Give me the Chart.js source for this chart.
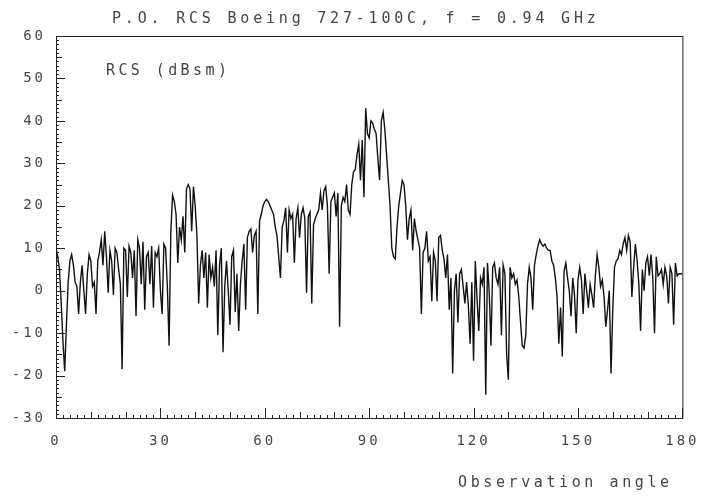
<!DOCTYPE html>
<html>
<head>
<meta charset="utf-8">
<script src="https://cdn.jsdelivr.net/npm/chart.js@4.4.1/dist/chart.umd.min.js"></script>
<style>
  html, body { margin: 0; padding: 0; background: #fff; }
  #wrap { width: 710px; height: 497px; }
</style>
</head>
<body>
<div id="wrap"><canvas id="grafico"></canvas></div>
<script>
// RCS (dBsm), one sample every 0.5 degree, 0..180
const rcs = [
  10, 8, 5, -3, -12, -19, -8, 2, 7, 8.5, 6, 2, 1, -5.5, 2, 6, 0, -5.5, 4, 8.5,
  7, 1, 2, -5.5, 7, 9, 12, 6, 14, 8, -0.5, 9.5, 7, -1, 10, 9, 5, 1.5, -18.5, 10,
  9.5, -1.5, 10.5, 9, 3, 9.5, -6, 12, 10, 1.5, 11.5, -4.5, 8, 9, 1.5, 10.5, -4, 9, 8, 10,
  0, -5.5, 11, 10, 1, -13, 14, 22.5, 21, 18, 6.5, 15, 12, 17.5, 9, 24, 25, 24, 14, 24.5,
  20, 13, -3, 6, 9.5, 3, 9, -4, 8.5, 3, 5.5, 1, 9.5, -10.5, 6, 10, -14.5, 1, 7, 0,
  -8, 8, 9.5, -5, 4, -9.5, 1.5, 7, 11, -4.5, 12.5, 14, 14.5, 9, 13, 14, -5.5, 16.5, 18, 20,
  21, 21.5, 21, 20, 19, 18, 15, 13, 8, 3, 15, 16.5, 19.5, 9, 19, 17, 18, 6.5, 17, 19.5,
  12.5, 18, 19.5, 17, -0.5, 17.5, 18.5, -3, 15.5, 17, 18, 19, 23, 19, 23.5, 24.5, 20, 4, 21, 22,
  23, 17.5, 23, -8.5, 20, 22, 21, 25, 19, 18, 25, 28, 28.5, 32, 34.5, 26, 35.5, 22, 43, 37,
  36, 40, 39.5, 38, 37, 31, 26, 40, 42, 38, 32, 26, 20, 10, 8, 7.5, 15, 20, 23, 26,
  25, 20, 12, 17, 19, 9.5, 17, 14, 12, 10, -5.5, 9, 10, 14, 7, 8, -2.5, 9, 7, -2.5,
  12.5, 13, 9.5, 7.5, 3, 8.5, -4.5, 3, -19.5, 0, 4, -7.5, 4, 5, 1, -3, 2, -3.5, -12.5, 2,
  -16.5, 7, -2, -9.5, 3, 1.5, 5.5, -24.5, 6.5, -0.5, -13, 5.5, 6.5, 3, 1.5, 5.5, -10.5, 6, 4, -15,
  -21, 5.5, 3, 4, 1.5, 2.5, -1.5, -7.5, -13, -13.5, -10.5, 1.5, 5.5, 3, -4.5, 6, 8.5, 10.5, 12, 11,
  10.5, 11, 10, 9.5, 9.5, 7, 6, 3, -1.5, -12.5, -4, -15.5, 4.5, 6.5, 3, 0, -6, 3, -1, -10,
  2.5, 5.5, 2.5, -5.5, 4, 0, -4, 1.5, -1, -4, 3.5, 8.5, 5.5, 1, 2.5, -1.5, -8.5, -4.5, 0, -19.5,
  -4.5, 5.5, 7, 7.5, 9.5, 8.5, 11, 12.5, 9.5, 13, 11.5, -1.5, 5.5, 11, 7, 1.5, -9.5, 5, 0, 6.5,
  8, 3.5, 8.5, 3, -10, 8, 3.5, 4, 5, 1.5, 5.5, 3.5, -3, 5.5, 4, -8, 6.5, 3.5, 4, 4,
  4
];
const passo = 0.5;
const angulos = rcs.map((_, i) => i * passo);

const xTicks = [0, 30, 60, 90, 120, 150, 180];
const yTicks = [-30, -20, -10, 0, 10, 20, 30, 40, 50, 60];

const titulo = 'P.O. RCS Boeing 727-100C, f = 0.94 GHz';
const rotuloY = 'RCS (dBsm)';
const rotuloX = 'Observation angle';

const fonte = '"DejaVu Sans Mono", "Liberation Mono", monospace';
const corTexto = '#454545';

const moldura = {
  id: 'moldura',
  beforeDraw(chart) {
    chart.ctx.letterSpacing = '3px';
  },
  afterDraw(chart) {
    const { ctx, chartArea: a, scales: { x, y } } = chart;
    ctx.save();
    ctx.strokeStyle = '#222';
    ctx.lineWidth = 1;
    ctx.strokeRect(a.left + 0.5, a.top + 0.5, a.right - a.left, a.bottom - a.top);

    ctx.beginPath();
    for (let v = 0; v <= 180; v += 2) {
      const len = v % 30 === 0 ? 10 : v % 10 === 0 ? 6 : 3;
      const px = Math.round(x.getPixelForValue(v)) + 0.5;
      ctx.moveTo(px, a.bottom);
      ctx.lineTo(px, a.bottom - len);
    }
    for (let v = -30; v <= 60; v += 1) {
      const len = v % 10 === 0 ? 9 : v % 5 === 0 ? 6 : 3;
      const py = Math.round(y.getPixelForValue(v)) + 0.5;
      ctx.moveTo(a.left, py);
      ctx.lineTo(a.left + len, py);
    }
    ctx.stroke();

    ctx.fillStyle = corTexto;
    ctx.textBaseline = 'middle';
    ctx.textAlign = 'left';
    ctx.font = '15px ' + fonte;
    ctx.letterSpacing = '3.8px';
    ctx.fillText(titulo, 112, 19);
    ctx.letterSpacing = '3.4px';
    ctx.fillText(rotuloY, 106, 71);
    ctx.letterSpacing = '3.6px';
    ctx.fillText(rotuloX, 458, 483);
    ctx.restore();
  }
};

const grafico = new Chart(document.getElementById('grafico'), {
  type: 'line',
  data: {
    labels: angulos,
    datasets: [{
      label: rotuloY,
      data: angulos.map((a, i) => ({ x: a, y: rcs[i] })),
      borderColor: '#111',
      borderWidth: 1.4,
      pointRadius: 0,
      tension: 0
    }]
  },
  options: {
    responsive: true,
    maintainAspectRatio: false,
    animation: false,
    layout: { padding: { left: 0, right: 25, top: 36, bottom: 0 } },
    plugins: {
      legend: { display: false },
      tooltip: { enabled: false }
    },
    scales: {
      x: {
        type: 'linear',
        min: 0,
        max: 180,
        afterFit: s => { s.height = 79; },
        afterBuildTicks: s => { s.ticks = xTicks.map(v => ({ value: v })); },
        grid: { display: false, drawTicks: false },
        border: { display: false },
        ticks: { color: corTexto, padding: 15, maxRotation: 0, font: { family: fonte, size: 14 } }
      },
      y: {
        min: -30,
        max: 60,
        afterFit: s => { s.width = 56; },
        afterBuildTicks: s => { s.ticks = yTicks.map(v => ({ value: v })); },
        grid: { display: false, drawTicks: false },
        border: { display: false },
        ticks: { color: corTexto, padding: 10, font: { family: fonte, size: 14 } }
      }
    }
  },
  plugins: [moldura]
});
</script>
</body>
</html>
